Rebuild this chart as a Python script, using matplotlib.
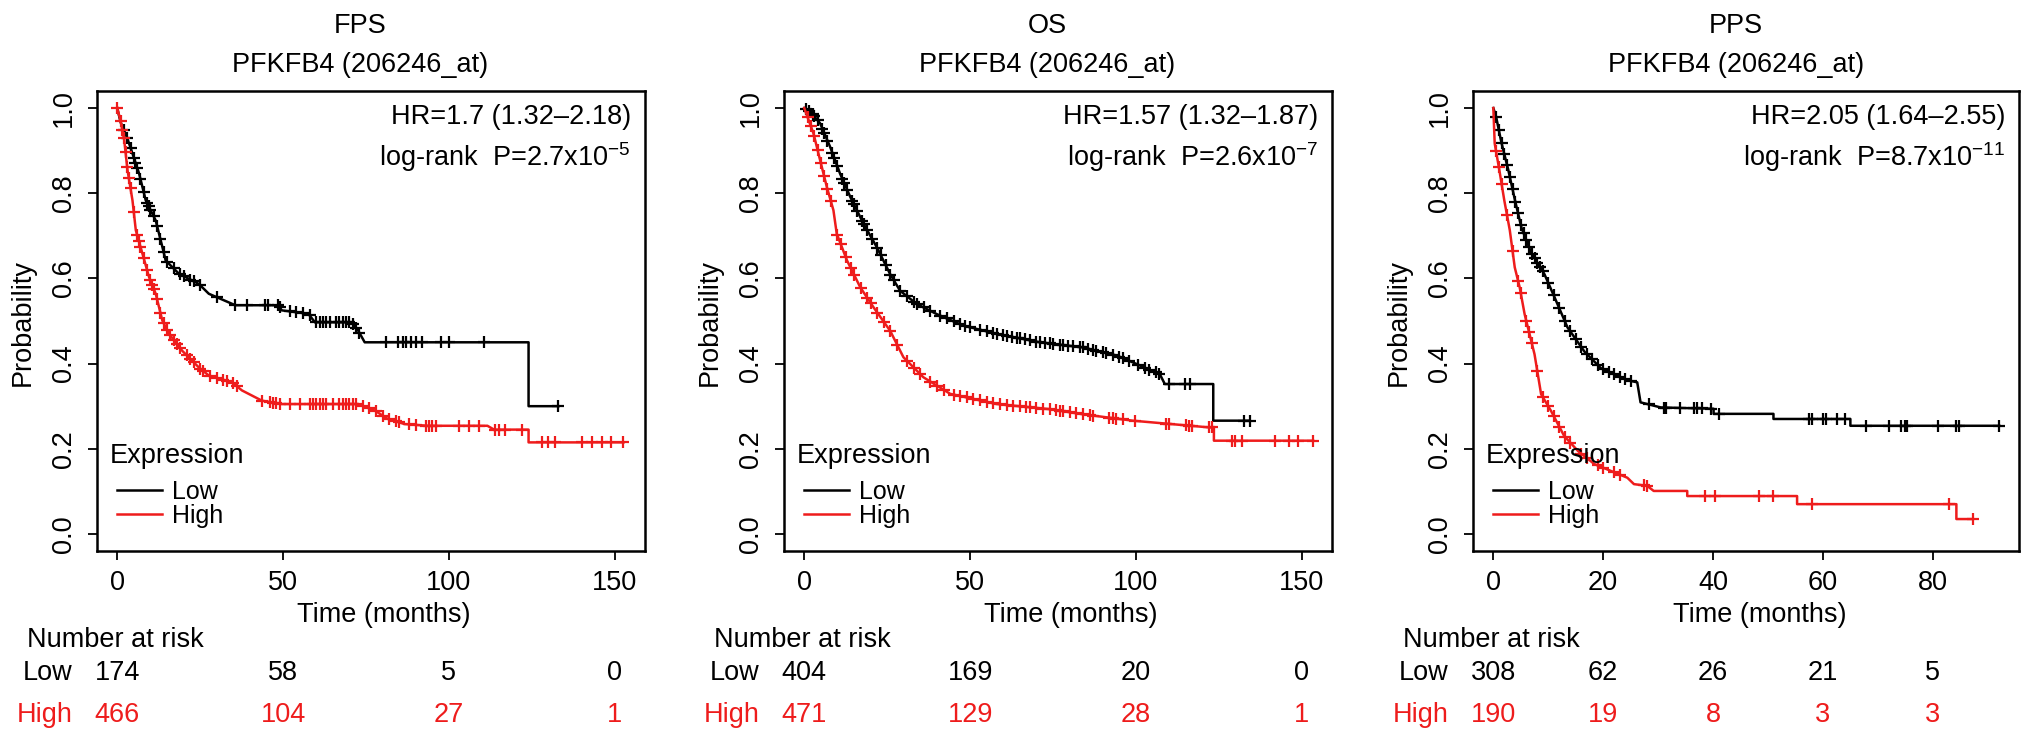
import numpy as np
import matplotlib
matplotlib.use("Agg")
import matplotlib.pyplot as plt
import matplotlib.transforms as mtransforms
from matplotlib.ticker import FormatStrFormatter

plt.rcParams["font.family"] = ["Liberation Sans", "DejaVu Sans"]
plt.rcParams["mathtext.fontset"] = "custom"
plt.rcParams["mathtext.rm"] = "Liberation Sans"
plt.rcParams["mathtext.default"] = "regular"

FS = 19.5
RED = "#ee1c1c"

# ---- FPS ----
fps_low_t = [0, 1, 3, 4.6, 6.6, 8.6, 11.6, 13.6, 14.6, 18.6, 24.6, 27.6, 35.6, 48.6,
             49.6, 57.6, 59.6, 70.6, 72.6, 74.6, 124, 124, 133]
fps_low_s = [1.0, 0.967, 0.93, 0.893, 0.846, 0.783, 0.736, 0.674, 0.642, 0.611, 0.587,
             0.564, 0.537, 0.537, 0.525, 0.517, 0.497, 0.497, 0.478, 0.450, 0.450, 0.30, 0.30]
fps_low_cens = [2, 3, 4, 5, 5.5, 6, 7, 8, 9, 9.5, 10, 11, 12, 13, 14, 15, 17, 19, 20, 22, 23,
                25, 30, 35.6, 39, 44.6, 45.6, 48.6, 49, 52, 54, 56, 58, 60, 61, 62, 63, 64,
                66, 67, 68, 69, 70, 71, 72, 73, 81, 84.6, 86, 87, 88.6, 90, 92, 97.6, 100,
                110.6, 133]
fps_high_t = [0, 1, 2.1, 3.1, 4.6, 5.6, 7.6, 9.6, 11.6, 13.6, 15.6, 19.6, 24.6, 27.6, 34.6,
              37.6, 43.6, 49.6, 72.6, 77.6, 81.6, 86.6, 93.6, 111.6, 113.6, 124, 124, 152.6]
fps_high_s = [1.0, 0.97, 0.925, 0.854, 0.783, 0.713, 0.658, 0.603, 0.564, 0.501, 0.470,
              0.430, 0.391, 0.372, 0.356, 0.337, 0.313, 0.305, 0.305, 0.290, 0.270, 0.258,
              0.254, 0.254, 0.245, 0.245, 0.215, 0.215]
fps_high_cens = [0, 1, 1.5, 2, 2.5, 3, 3.5, 4, 5, 6, 6.5, 7, 8, 9, 10, 10.5, 11, 12, 13, 14,
                 15, 16, 17, 18, 19, 21, 22, 23, 25, 26, 28, 30, 32, 33, 35, 36, 43.6, 46,
                 47, 48, 49, 52, 55, 58, 59, 60, 61, 62, 63, 65, 67, 68, 69, 70, 71, 72, 74,
                 76, 78, 80, 82, 84, 85, 88, 90, 93, 94, 95, 96, 103, 106, 109, 114, 115,
                 117, 122, 128, 130, 132, 140, 143, 146, 149, 152.6]
fps_times = [0, 50, 100, 150]
fps_risk_low = [174, 58, 5, 0]
fps_risk_high = [466, 104, 27, 1]

# ---- OS ----
os_low_t = [0, 2, 4.8, 7.8, 10.8, 13.9, 17.9, 21.9, 25.9, 28.9, 33.9, 40, 48, 58, 71, 84,
            94.2, 100.2, 107.2, 108.7, 123.3, 123.3, 134.3]
os_low_s = [1.0, 0.99, 0.964, 0.909, 0.846, 0.791, 0.728, 0.673, 0.610, 0.571, 0.540, 0.516,
            0.489, 0.470, 0.450, 0.438, 0.419, 0.399, 0.375, 0.352, 0.352, 0.266, 0.266]
os_low_cens = [0.5, 1.5, 2.5, 3, 4, 5.5, 6, 7, 8.5, 9, 10, 11.5, 12, 13, 14.5, 15, 16, 17.5,
               18, 19, 20.5, 22, 23, 24.5, 26, 27, 29, 31, 33, 34, 36, 38, 41, 43, 45, 47,
               48.5, 50, 53, 55, 57, 58, 60, 61, 62.5, 64, 65, 66.5, 68, 70, 71, 72.5, 74,
               75, 77, 78, 79.5, 81, 83, 84, 85.5, 87, 88, 90, 91, 93, 95, 96, 98, 100.6,
               102.6, 104, 106, 107, 110, 114.7, 116.2, 132.6, 134.3]
os_high_t = [0, 2.8, 4.8, 6.8, 8.8, 9.8, 12.9, 16.9, 20.9, 25.9, 29.9, 35.9, 44, 58, 74, 84,
             99, 122.3, 123.5, 123.5, 153.4]
os_high_s = [1.0, 0.94, 0.877, 0.815, 0.760, 0.705, 0.642, 0.579, 0.532, 0.477, 0.415,
             0.368, 0.329, 0.305, 0.293, 0.281, 0.266, 0.250, 0.250, 0.219, 0.219]
os_high_cens = [1, 2, 3, 4, 5, 6, 7, 8, 10, 11, 12.5, 14, 15, 17, 19, 20, 22, 24, 26, 28, 31,
                33, 35, 38, 40, 42, 45, 47, 49, 51, 53, 55, 57, 59, 61, 63, 65, 67, 68, 70,
                72, 74, 76, 77, 78, 80, 82, 84, 86, 87, 92, 93, 94, 96, 99.6, 109, 110, 115,
                116, 117, 122, 123, 129, 130, 132, 142, 146, 149, 153.4]
os_times = [0, 50, 100, 150]
os_risk_low = [404, 169, 20, 0]
os_risk_high = [471, 129, 28, 1]

# ---- PPS ----
pps_low_t = [0, 0.5, 1.45, 2.7, 3.9, 5.1, 6.9, 9.3, 11, 13.5, 16.6, 19.6, 24.4, 26.2, 26.8,
             30.5, 40.1, 40.1, 51, 51, 65, 65, 92.1]
pps_low_s = [1.0, 0.98, 0.92, 0.856, 0.786, 0.72, 0.66, 0.61, 0.56, 0.485, 0.428, 0.389,
             0.361, 0.356, 0.309, 0.297, 0.294, 0.282, 0.282, 0.270, 0.270, 0.254, 0.254]
pps_low_cens = [0.5, 1, 1.5, 2, 2.5, 3, 3.5, 4, 4.5, 5, 5.5, 6, 6.5, 7, 7.5, 8, 8.5, 9, 10,
                11, 12, 13, 14, 15, 16, 17, 18, 19, 20, 21, 22, 23, 24, 25, 28.3, 31, 31.5,
                34, 36.5, 37, 38, 39.6, 41, 57.4, 58, 60, 60.5, 62.6, 64, 67.9, 72.1, 74.2,
                75, 75.4, 81, 84.3, 84.8, 92.1]
pps_high_t = [0, 0.25, 1.1, 2.0, 3.0, 3.9, 4.8, 5.7, 7.5, 8.7, 10.5, 12.9, 15.4, 18.4, 21.4,
              24.4, 25.6, 28.0, 29.2, 35.3, 35.3, 55.3, 55.3, 84.3, 84.3, 87.3]
pps_high_s = [1.0, 0.917, 0.854, 0.783, 0.713, 0.626, 0.579, 0.516, 0.422, 0.328, 0.289,
              0.23, 0.195, 0.164, 0.148, 0.132, 0.117, 0.113, 0.101, 0.101, 0.089, 0.089,
              0.070, 0.070, 0.035, 0.035]
pps_high_cens = [0.5, 1, 1.5, 2.5, 3.5, 4.5, 5, 6, 6.5, 7, 8, 9, 10, 11, 12, 13, 14, 16, 17,
                 19, 20, 22, 23, 27.5, 28, 38.6, 40.4, 48.3, 51, 58, 83, 87.3]
pps_times = [0, 20, 40, 60, 80]
pps_risk_low = [308, 62, 26, 21, 5]
pps_risk_high = [190, 19, 8, 3, 3]

titles = ["FPS", "OS", "PPS"]
probe = "PFKFB4 (206246_at)"
hr_texts = ["HR=1.7 (1.32\u20132.18)", "HR=1.57 (1.32\u20131.87)", "HR=2.05 (1.64\u20132.55)"]
p_texts = [r"log-rank  P=2.7x10$^{-5}$", r"log-rank  P=2.6x10$^{-7}$",
           r"log-rank  P=8.7x10$^{-11}$"]

W, H = 2032, 748
fig = plt.figure(figsize=(W / 100, H / 100), dpi=100)

# axes boxes in pixels: left, right
boxes = [(97, 645), (784, 1332), (1473, 2019)]
top_px, bot_px = 91, 551
xlims = [(-6.1, 159.1), (-6.1, 159.1), (-3.7, 95.7)]


def km_panel(ax, low_t, low_s, low_c, high_t, high_s, high_c):
    l1, = ax.plot(low_t, low_s, color="black", lw=1.8)
    ax.plot(low_c, np.interp(low_c, low_t, low_s), ls="none", marker="+",
            ms=9, mew=1.6, color="black")
    l2, = ax.plot(high_t, high_s, color=RED, lw=1.8)
    ax.plot(high_c, np.interp(high_c, high_t, high_s), ls="none", marker="+",
            ms=9, mew=1.6, color=RED)
    return l1, l2


panels = [
    (fps_low_t, fps_low_s, fps_low_cens, fps_high_t, fps_high_s, fps_high_cens,
     fps_times, fps_risk_low, fps_risk_high),
    (os_low_t, os_low_s, os_low_cens, os_high_t, os_high_s, os_high_cens,
     os_times, os_risk_low, os_risk_high),
    (pps_low_t, pps_low_s, pps_low_cens, pps_high_t, pps_high_s, pps_high_cens,
     pps_times, pps_risk_low, pps_risk_high),
]

for i, p in enumerate(panels):
    left, right = boxes[i]
    ax = fig.add_axes([left / W, (H - bot_px) / H, (right - left) / W,
                       (bot_px - top_px) / H])
    l1, l2 = km_panel(ax, *p[:6])
    times, rlow, rhigh = p[6], p[7], p[8]

    ax.set_xlim(*xlims[i])
    ax.set_ylim(-0.04, 1.04)
    ax.set_xticks(times)
    ax.set_yticks([0, 0.2, 0.4, 0.6, 0.8, 1.0])
    ax.yaxis.set_major_formatter(FormatStrFormatter("%.1f"))
    for s in ax.spines.values():
        s.set_linewidth(1.8)
    ax.tick_params(direction="out", length=6.5, width=1.3, labelsize=FS, pad=7)
    ax.tick_params(axis="y", labelrotation=90, pad=8)
    for lbl in ax.get_yticklabels():
        lbl.set_va("center")

    wpx = right - left
    hpx = bot_px - top_px
    ax.text((360 - 97) / wpx, (bot_px - 26) / hpx, titles[i], transform=ax.transAxes,
            ha="center", va="center", fontsize=FS)
    ax.text((360 - 97) / wpx, (bot_px - 65) / hpx, probe, transform=ax.transAxes,
            ha="center", va="center", fontsize=FS)
    ax.text((384 - 97) / wpx, (bot_px - 615) / hpx, "Time (months)",
            transform=ax.transAxes, ha="center", va="center", fontsize=FS)
    ax.text((23 - 97) / wpx, (bot_px - 323) / hpx, "Probability", transform=ax.transAxes,
            ha="center", va="center", rotation=90, fontsize=FS)
    ax.text(1 - 14 / wpx, (bot_px - 117) / hpx, hr_texts[i], transform=ax.transAxes,
            ha="right", va="center", fontsize=FS)
    ax.text(1 - 14 / wpx, (bot_px - 157) / hpx, p_texts[i], transform=ax.transAxes,
            ha="right", va="center", fontsize=FS)

    ax.text(13 / wpx, (bot_px - 456) / hpx, "Expression", transform=ax.transAxes,
            ha="left", va="center", fontsize=FS)
    ax.legend([l1, l2], ["Low", "High"], loc="upper left",
              bbox_to_anchor=(20 / wpx, (bot_px - 480) / hpx), frameon=False,
              fontsize=18, handlelength=1.8, handletextpad=0.4, labelspacing=0.0,
              borderpad=0, borderaxespad=0)

    # number at risk table
    blend = mtransforms.blended_transform_factory(ax.transData, fig.transFigure)
    t_head = mtransforms.offset_copy(blend, fig=fig, x=-90, y=0, units="dots")
    t_lab = mtransforms.offset_copy(blend, fig=fig, x=-45, y=0, units="dots")
    y_head = (H - 640) / H
    y_low = (H - 673) / H
    y_high = (H - 715) / H
    ax.text(0, y_head, "Number at risk", transform=t_head, ha="left", va="center",
            fontsize=FS, clip_on=False)
    ax.text(0, y_low, "Low", transform=t_lab, ha="right", va="center", fontsize=FS,
            clip_on=False)
    ax.text(0, y_high, "High", transform=t_lab, ha="right", va="center", fontsize=FS,
            color=RED, clip_on=False)
    for t, nl, nh in zip(times, rlow, rhigh):
        ax.text(t, y_low, str(nl), transform=blend, ha="center", va="center",
                fontsize=FS, clip_on=False)
        ax.text(t, y_high, str(nh), transform=blend, ha="center", va="center",
                fontsize=FS, color=RED, clip_on=False)

fig.savefig("out.png", dpi=100)
